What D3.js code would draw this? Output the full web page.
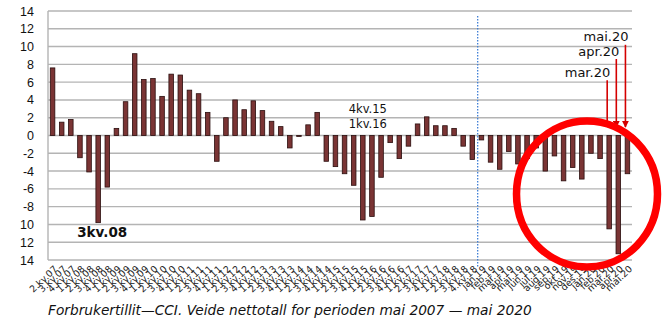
<!DOCTYPE html>
<html><head><meta charset="utf-8">
<script src="https://cdn.jsdelivr.net/npm/d3@7"></script>
<style>
html,body{margin:0;padding:0;background:#fff;}
svg{display:block;}
</style></head>
<body>
<svg id="c" width="665" height="334"></svg>
<script>
const categories = [
"2.kv.07","3.kv.07","4.kv.07",
"1.kv.08","2.kv.08","3.kv.08","4.kv.08",
"1.kv.09","2.kv.09","3.kv.09","4.kv.09",
"1.kv.10","2.kv.10","3.kv.10","4.kv.10",
"1.kv.11","2.kv.11","3.kv.11","4.kv.11",
"1.kv.12","2.kv.12","3.kv.12","4.kv.12",
"1.kv.13","2.kv.13","3.kv.13","4.kv.13",
"1.kv.14","2.kv.14","3.kv.14","4.kv.14",
"1.kv.15","2.kv.15","3.kv.15","4.kv.15",
"1.kv.16","2.kv.16","3.kv.16","4.kv.16",
"1.kv.17","2.kv.17","3.kv.17","4.kv.17",
"1.kv.18","2.kv.18","3.kv.18","4.kv.18",
"jan.19","feb.19","mar.19","apr.19","mai.19","jun.19","jul.19","aug.19","sep.19","okt.19","nov.19","des.19",
"jan.20","feb.20","mar.20","apr.20","mai.20"];
const values = [
7.6,1.5,1.8,
-2.5,-4.1,-9.8,-5.8,
0.8,3.8,9.2,6.3,
6.4,4.4,6.9,6.8,
5.1,4.7,2.6,-2.9,
2.0,4.0,2.9,3.9,
2.8,1.6,1.0,-1.4,
-0.1,1.2,2.6,-2.9,
-3.5,-4.3,-5.6,-9.5,
-9.1,-4.7,-0.8,-2.6,
-1.2,1.3,2.1,1.1,
1.1,0.8,-1.2,-2.7,
-0.5,-3.0,-3.8,-1.8,-3.2,-2.6,-1.4,-4.0,-2.3,-5.1,-3.6,-4.9,
-2.0,-2.6,-10.5,-13.3,-4.3];
const yTicks = [14,12,10,8,6,4,2,0,-2,-4,-6,-8,-10,-12,-14];
const yTickLabels = ["14","12","10","8","6","4","2","0","-2","-4","-6","-8","10","12","14"];
const caption = "Forbrukertillit\u2014CCI. Veide nettotall for perioden mai 2007 \u2014 mai 2020";
const callouts = [
  {cat:"mar.20", label:"mar.20", from:6.2},
  {cat:"apr.20", label:"apr.20", from:8.6},
  {cat:"mai.20", label:"mai.20", from:10.2}];
const notes = [
  {cat:"3.kv.08", text:"3kv.08", v:-11.4, bold:true},
  {cat:"4.kv.15", text:"4kv.15", v:2.5, bold:false},
  {cat:"4.kv.15", text:"1kv.16", v:0.85, bold:false}];

const svg = d3.select("#c");
const L=48, R=632, T=11, B=260;
const x = d3.scaleBand().domain(categories).range([L,R]).paddingInner(0.5).paddingOuter(0.25);
const y = d3.scaleLinear().domain([-14,14]).range([B,T]);
const cx = c => x(c)+x.bandwidth()/2;

// grid
svg.append("g").selectAll("line").data(yTicks).join("line")
  .attr("x1",L).attr("x2",R).attr("y1",d=>y(d)).attr("y2",d=>y(d))
  .attr("stroke","#b4b4b4").attr("stroke-width",1.4);
svg.append("line").attr("x1",L).attr("x2",L).attr("y1",T).attr("y2",B)
  .attr("stroke","#b4b4b4").attr("stroke-width",1.4);

// y labels
svg.append("g").selectAll("text").data(yTicks).join("text")
  .attr("x",34).attr("y",d=>y(d)).attr("dy","0.36em").attr("text-anchor","end")
  .attr("font-family","Liberation Sans, Arial, sans-serif").attr("font-size",12.5)
  .attr("fill","#111").text((d,i)=>yTickLabels[i]);

// blue dotted separator
const sepX = (x("4.kv.18")+x.bandwidth()+x("jan.19"))/2 + 0.8;
svg.append("line").attr("x1",sepX).attr("x2",sepX).attr("y1",16).attr("y2",268)
  .attr("stroke","#3f7fd6").attr("stroke-width",1.3).attr("stroke-dasharray","1.6,1.4");

// bars
svg.append("g").selectAll("rect").data(values).join("rect")
  .attr("x",(d,i)=>x(categories[i])).attr("width",x.bandwidth())
  .attr("y",d=>y(Math.max(0,d))).attr("height",d=>Math.max(0.8,Math.abs(y(d)-y(0))))
  .attr("fill","#7a3434").attr("stroke","#2a0e0e").attr("stroke-width",0.8);

// x labels
svg.append("g").selectAll("text").data(categories).join("text")
  .attr("transform",d=>`translate(${cx(d)+2},${B+6}) rotate(-43)`)
  .attr("text-anchor","end").attr("dy","0.55em")
  .attr("font-family","DejaVu Sans, Verdana, sans-serif").attr("font-size",9.4)
  .attr("fill","#222").text(d=>d);

// notes
svg.append("g").selectAll("text").data(notes).join("text")
  .attr("x",d=>cx(d.cat)+ (d.bold?4:5)).attr("y",d=>y(d.v)).attr("text-anchor","middle")
  .attr("font-family","DejaVu Sans, Verdana, sans-serif")
  .attr("font-size",d=>d.bold?13.5:11.5).attr("font-weight",d=>d.bold?"bold":"normal")
  .attr("fill","#111").text(d=>d.text);

// arrows
const defs = svg.append("defs");
defs.append("marker").attr("id","ah").attr("viewBox","0 0 10 10").attr("refX",9).attr("refY",5)
  .attr("markerWidth",4.5).attr("markerHeight",4.5).attr("orient","auto")
  .append("path").attr("d","M0,0 L10,5 L0,10 z").attr("fill","#d40000");
svg.append("g").selectAll("line").data(callouts).join("line")
  .attr("x1",d=>cx(d.cat)-2).attr("x2",d=>cx(d.cat)-2)
  .attr("y1",d=>y(d.from)).attr("y2",y(0.95))
  .attr("stroke","#d40000").attr("stroke-width",1.6).attr("marker-end","url(#ah)");
svg.append("g").selectAll("text").data(callouts).join("text")
  .attr("x",d=>cx(d.cat)+1).attr("y",d=>y(d.from)-3.5).attr("text-anchor","end")
  .attr("font-family","DejaVu Sans, Verdana, sans-serif").attr("font-size",13)
  .attr("fill","#111").text(d=>d.label);

// red circle
svg.append("ellipse").attr("cx",587).attr("cy",194).attr("rx",70.5).attr("ry",73)
  .attr("fill","none").attr("stroke","#ff0000").attr("stroke-width",7.5);

// caption, sized to span the same width as the original
const cap = svg.append("text").attr("x",48).attr("y",315)
  .attr("font-family","DejaVu Sans, Verdana, sans-serif").attr("font-style","italic")
  .attr("font-size",13).attr("fill","#111").text(caption);
const w = cap.node().getComputedTextLength();
if (w > 0) cap.attr("font-size", Math.min(16, 13*484/w));
</script>
</body></html>
